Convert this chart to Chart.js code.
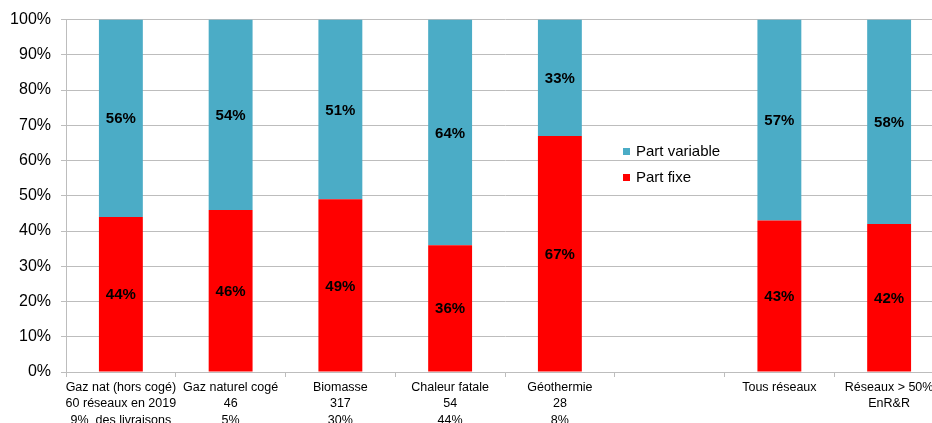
<!DOCTYPE html>
<html>
<head>
  <meta charset="utf-8">
  <title>Part fixe / part variable</title>
  <style>
    html, body { margin: 0; padding: 0; background: #fff; overflow: hidden; }
    #wrap { width: 950px; height: 432px; }
  </style>
  <script src="https://cdn.jsdelivr.net/npm/chart.js@4.4.1/dist/chart.umd.min.js"></script>
</head>
<body>
<div id="wrap"><canvas id="myChart" width="950" height="432"></canvas></div>
<script>

// categories (the empty one is the gap before the totals)
var labels = [
  ["Gaz nat (hors cogé)", "60 réseaux en 2019", "9%  des livraisons"],
  ["Gaz naturel cogé", "46", "5%"],
  ["Biomasse", "317", "30%"],
  ["Chaleur fatale", "54", "44%"],
  ["Géothermie", "28", "8%"],
  "",
  "Tous réseaux",
  ["Réseaux > 50%", "EnR&R"]
];
var partFixe     = [44, 46, 49, 36, 67, null, 43, 42];
var partVariable = [56, 54, 51, 64, 33, null, 57, 58];
var yTicks = [0, 10, 20, 30, 40, 50, 60, 70, 80, 90, 100];

var red = '#ff0000';
var blue = '#4bacc6';
var gridCol = '#bdbdbd';

// values in the middle of each bar
var barLabels = {
  id: 'barLabels',
  afterDatasetsDraw: function(chart) {
    var ctx = chart.ctx;
    ctx.save();
    ctx.font = 'bold 15px "Liberation Sans", Arial, sans-serif';
    ctx.fillStyle = '#000';
    ctx.textAlign = 'center';
    ctx.textBaseline = 'middle';
    chart.data.datasets.forEach(function(ds, i) {
      var meta = chart.getDatasetMeta(i);
      meta.data.forEach(function(bar, j) {
        var v = ds.data[j];
        if (v == null) return;
        ctx.fillText(v + '%', bar.x, (bar.y + bar.base) / 2 + 1);
      });
    });
    ctx.restore();
  }
};

// legend drawn inside the plot, variable on top
var innerLegend = {
  id: 'innerLegend',
  afterDraw: function(chart) {
    var ctx = chart.ctx;
    var order = [1, 0];
    ctx.save();
    ctx.font = '15px "Liberation Sans", Arial, sans-serif';
    ctx.textBaseline = 'middle';
    ctx.textAlign = 'left';
    order.forEach(function(idx, k) {
      var ds = chart.data.datasets[idx];
      var y = 151 + k * 26;
      ctx.fillStyle = ds.backgroundColor;
      ctx.fillRect(623, y - 3, 7, 7);
      ctx.fillStyle = '#000';
      ctx.fillText(ds.label, 636, y + 1);
    });
    ctx.restore();
  }
};

var ctx = document.getElementById('myChart').getContext('2d');
var myChart = new Chart(ctx, {
  type: 'bar',
  data: {
    labels: labels,
    datasets: [{
      label: 'Part fixe',
      data: partFixe,
      backgroundColor: red,
      barPercentage: 0.4,
      categoryPercentage: 1
    }, {
      label: 'Part variable',
      data: partVariable,
      backgroundColor: blue,
      barPercentage: 0.4,
      categoryPercentage: 1
    }]
  },
  options: {
    responsive: false,
    animation: false,
    devicePixelRatio: 1,
    layout: { padding: { left: 0, top: 19, right: 6, bottom: 0 } },
    plugins: {
      legend: { display: false },
      tooltip: { enabled: false },
      title: { display: false }
    },
    scales: {
      x: {
        stacked: true,
        afterFit: function(scale) { scale.height = 432 - 372; },
        grid: { offset: true, drawOnChartArea: false, drawTicks: true, tickLength: 5, color: gridCol },
        border: { display: true, color: gridCol },
        ticks: {
          color: '#000',
          padding: 2,
          maxRotation: 0,
          autoSkip: false,
          font: { family: '"Liberation Sans", Arial, sans-serif', size: 12.5, lineHeight: 1.33 }
        }
      },
      y: {
        stacked: true,
        min: 0,
        max: 100,
        afterFit: function(scale) { scale.width = 66; },
        afterBuildTicks: function(scale) {
          scale.ticks = yTicks.map(function(v) { return { value: v }; });
        },
        grid: { color: gridCol, tickLength: 5 },
        border: { display: true, color: gridCol },
        ticks: {
          color: '#000',
          padding: 10,
          font: { family: '"Liberation Sans", Arial, sans-serif', size: 16 },
          callback: function(v) { return v + '%'; }
        }
      }
    }
  },
  plugins: [barLabels, innerLegend]
});

</script>
</body>
</html>
